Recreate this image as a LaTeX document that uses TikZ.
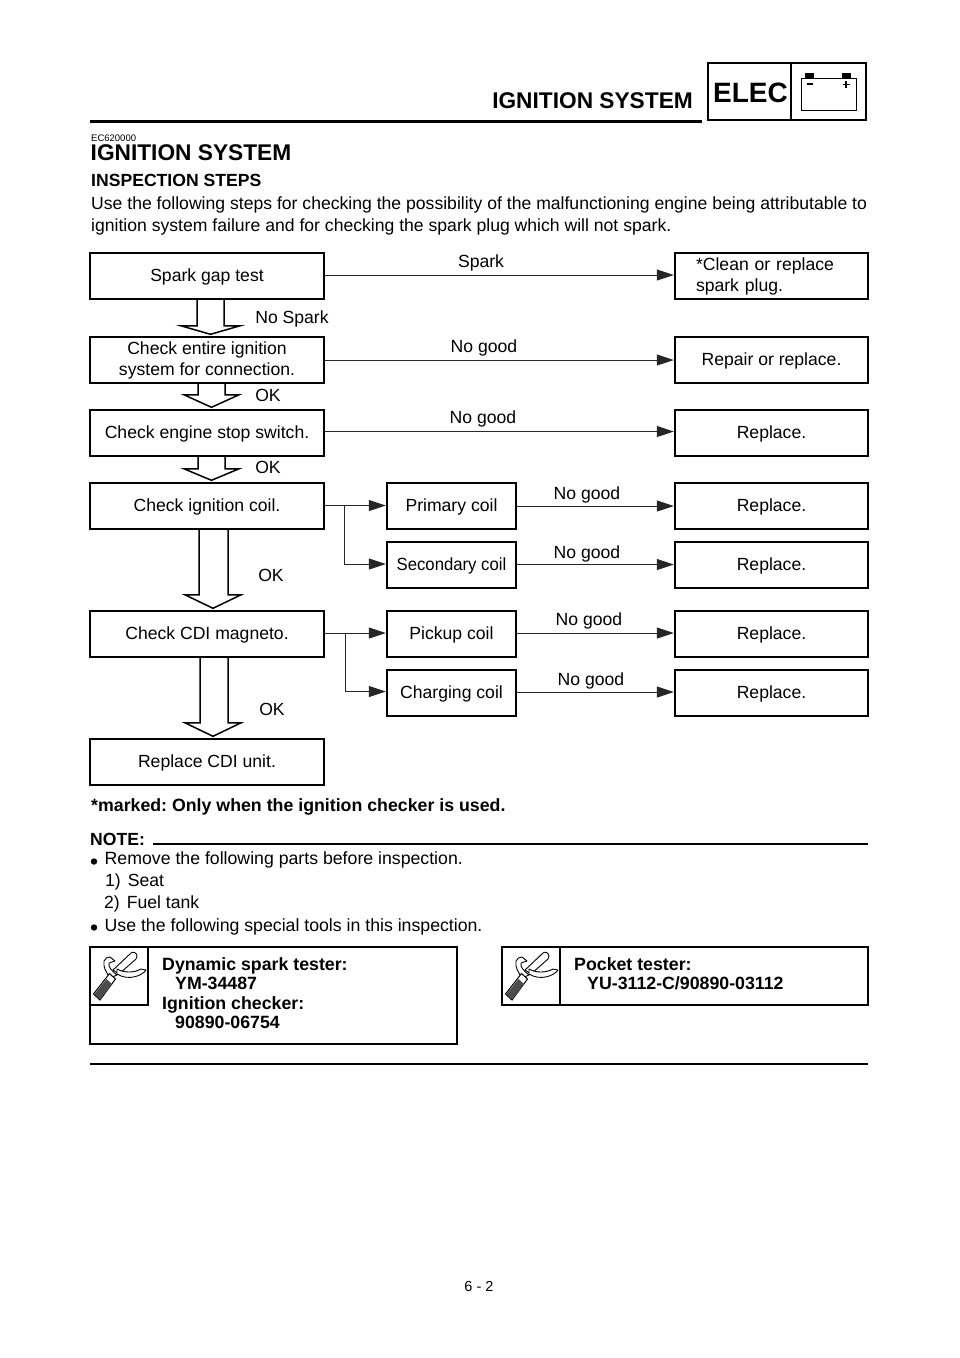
\documentclass[tikz,border=0pt]{standalone}
\usepackage{fontspec}
\usepackage{graphicx}
\setmainfont{Liberation Sans}
\usetikzlibrary{arrows.meta,calc}
\frenchspacing
\tikzset{
 x=1pt,y=-1pt,
 box/.style={draw=black,line width=2.4pt,fill=white,inner sep=0pt,align=center,font=\fontsize{17.6}{21}\selectfont},
 one/.style={text height=13pt,text depth=3pt},
 big/.style={box,minimum width=234pt,minimum height=46pt},
 mid/.style={box,one,minimum width=129pt,minimum height=46pt},
 res/.style={box,minimum width=193pt,minimum height=46pt},
 flow/.style={draw=black!85,line width=1pt,-{Triangle[length=17pt,width=11pt]}},
 blk/.style={draw=black,line width=1.5pt,fill=white,line join=miter},
 lbl/.style={font=\fontsize{17.6}{21}\selectfont,inner sep=0pt,anchor=base},
 txt/.style={font=\fontsize{17.6}{22}\selectfont,inner sep=0pt,anchor=base west},
 txtb/.style={font=\fontsize{17.7}{22}\selectfont,inner sep=0pt,anchor=base west},
 btxt/.style={font=\fontsize{17.6}{22}\selectfont\bfseries,inner sep=0pt,anchor=base west},
 btxtb/.style={font=\fontsize{17.75}{22}\selectfont\bfseries,inner sep=0pt,anchor=base west},
 rulethick/.style={draw=black,line width=2.6pt},
 toolbox/.style={draw=black,line width=2.4pt},
 iconline/.style={draw=black,line width=.9pt,fill=white,line join=round},
}
% block arrow: from node #1 to node #2, shaft x #3..#4, head x #5..#6, head top #7 above target
\newcommand{\blockarrow}[7]{%
 \draw[blk] let \p1=(#1.south), \p2=(#2.north) in
  (#3pt,\y1) -- (#3pt,\y2+#7pt) -- (#5pt,\y2+#7pt) -- ({(#5+#6)/2*1pt},\y2+1.5pt)
  -- (#6pt,\y2+#7pt) -- (#4pt,\y2+#7pt) -- (#4pt,\y1);
}
\newcommand{\wrenchicon}[1]{%
 \begin{scope}[shift={#1}]
  % curled hook
  \draw[iconline] (20,31) .. controls (16,25) and (13,20) .. (14,14)
   .. controls (15,11) and (18,10) .. (20,10) -- (25,14) -- (19,16)
   .. controls (18,20) and (22,24) .. (27,28) -- cycle;
  % lever
  \draw[iconline] (23,23) -- (41,6) .. controls (43,4) and (47,6) .. (47,9)
   .. controls (47,10) and (47,11) .. (46,12) -- (29,27) -- cycle;
  % right hook
  \draw[iconline] (27,22) .. controls (34,26) and (44,26) .. (51,22) -- (56,23)
   .. controls (52,29) and (38,34) .. (27,27) -- cycle;
  % handle
  \draw[black,line width=1pt,fill=white] (3.5,47) -- (19.5,26.5) -- (25.5,32) -- (10,53) -- cycle;
  \fill[black!70] (4.5,47) -- (16.5,32) -- (22,37) -- (10,52.5) -- cycle;
 \end{scope}
}
\begin{document}
\begin{tikzpicture}
\useasboundingbox (0,0) rectangle (960,1358);
\fill[white] (0,0) rectangle (960,1358);

% header
\node[inner sep=0pt,anchor=base east,font=\fontsize{22.7}{26}\selectfont\bfseries] (hdr) at (693,108) {IGNITION SYSTEM};
\coordinate (hr1) at (90,121); \coordinate (hr2) at (702,121);
\draw[line width=3pt] (hr1) -- (hr2);
\draw[line width=2.6pt] (708,63) rectangle (866,120);
\draw[line width=2.6pt] (791,63) -- (791,120);
\node[inner sep=0pt,anchor=base,font=\fontsize{28}{32}\selectfont\bfseries] (elec) at (750.5,102) {ELEC};
\draw[line width=1pt] (801,78) rectangle (856,110);
\fill (805,73) rectangle (814,78);
\fill (842,73) rectangle (851,78);
\draw[line width=1.2pt] (807,84) -- (813,84);
\draw[line width=1.2pt] (842.5,84.5) -- (849.5,84.5) (846,81) -- (846,88);

% heading text
\node[inner sep=0pt,anchor=base west,font=\fontsize{9.5}{11}\selectfont] (code) at (91,141) {EC620000};
\node[inner sep=0pt,anchor=base west,font=\fontsize{22.7}{28}\selectfont\bfseries] (title) at (90.5,160.5) {IGNITION SYSTEM};
\node[btxt] (steps) at (91,186) {INSPECTION STEPS};
\node[txt] (p1) at (91,209) {Use the following steps for checking the possibility of the malfunctioning engine being attributable to};
\node[txt] (p2) at (91,231) {ignition system failure and for checking the spark plug which will not spark.};

% left column
\node[big,one] (a1) at (207,276) {Spark gap test};
\node[big] (a2) at (207,360) {Check entire ignition\\system for connection.};
\node[big,one] (a3) at (207,433) {Check engine stop switch.};
\node[big,one] (a4) at (207,506) {Check ignition coil.};
\node[big,one] (a5) at (207,634) {Check CDI magneto.};
\node[big,one] (a6) at (207,762) {Replace CDI unit.};

% middle column
\node[mid] (m1) at (451.5,506) {Primary coil};
\node[mid] (m2) at (451.5,565) {\scalebox{0.95}[1]{Secondary coil}};
\node[mid] (m3) at (451.5,634) {Pickup coil};
\node[mid] (m4) at (451.5,693) {Charging coil};

% right column
\node[res,align=left,text width=151pt] (r1) at (771.5,276) {*Clean or replace\\spark plug.};
\node[res,one] (r2) at (771.5,360) {Repair or replace.};
\node[res,one] (r3) at (771.5,433) {Replace.};
\node[res,one] (r4) at (771.5,506) {Replace.};
\node[res,one] (r5) at (771.5,565) {Replace.};
\node[res,one] (r6) at (771.5,634) {Replace.};
\node[res,one] (r7) at (771.5,693) {Replace.};

% block arrows
\blockarrow{a1}{a2}{197}{224}{181}{240}{10}
\blockarrow{a2}{a3}{198}{225}{184}{239}{14}
\blockarrow{a3}{a4}{198}{225}{184}{239}{13}
\blockarrow{a4}{a5}{199}{228}{185}{241}{15}
\blockarrow{a5}{a6}{200}{228}{185}{241}{15}

% flow lines
\draw[flow] ([yshift=1pt]a1.east) -- ([yshift=1pt]r1.west);
\draw[flow] (a2.east) -- (r2.west);
\draw[flow] ([yshift=1.5pt]a3.east) -- ([yshift=1.5pt]r3.west);
\draw[flow] ([yshift=.5pt]a4.east) -- ([yshift=.5pt]m1.west);
\draw[flow] ([yshift=1pt]a5.east) -- ([yshift=1pt]m3.west);
\draw[flow] (m1.east) -- (r4.west);
\draw[flow] ([yshift=.5pt]m2.east) -- ([yshift=.5pt]r5.west);
\draw[flow] ([yshift=1pt]m3.east) -- ([yshift=1pt]r6.west);
\draw[flow] ([yshift=1pt]m4.east) -- ([yshift=1pt]r7.west);
\coordinate (j1) at (344,505.5);
\coordinate (j2) at (345.5,633);
\draw[flow] (j1) |- ([yshift=1pt]m2.west);
\draw[flow] (j2) |- ([yshift=1.5pt]m4.west);

% labels
\node[lbl] (l1) at (481,267) {Spark};
\node[lbl] (l2) at (292,323) {No Spark};
\node[lbl] (l3) at (484,352) {No good};
\node[lbl] (l4) at (268,401) {OK};
\node[lbl] (l5) at (483,423) {No good};
\node[lbl] (l6) at (268,473) {OK};
\node[lbl] (l7) at (587,499) {No good};
\node[lbl] (l8) at (587,558) {No good};
\node[lbl] (l9) at (271,581) {OK};
\node[lbl] (l10) at (589,625) {No good};
\node[lbl] (l11) at (591,685) {No good};
\node[lbl] (l12) at (272,715) {OK};

% footnote & note
\node[btxtb] (mark) at (91,811) {*marked: Only when the ignition checker is used.};
\node[btxt] (note) at (90,845) {NOTE:};
\coordinate (n1) at (153,844); \coordinate (n2) at (868,844);
\draw[rulethick] (n1) -- (n2);
\fill (94,861.5) circle (3.2pt);
\node[txtb] (n3) at (104.5,864) {Remove the following parts before inspection.};
\node[txt] (n4) at (105,886.5) {1)\hspace{7pt}Seat};
\node[txt] (n5) at (104,908) {2)\hspace{7pt}Fuel tank};
\fill (94,927.5) circle (3.2pt);
\node[txtb] (n6) at (104.5,931.5) {Use the following special tools in this inspection.};

% tool boxes
\draw[toolbox] (90,947) rectangle (457,1044);
\draw[toolbox] (90,1005) -- (148,1005) -- (148,947);
\draw[toolbox] (502,947) rectangle (868,1005);
\draw[toolbox] (560,947) -- (560,1005);
\wrenchicon{(90,947)}
\wrenchicon{(502,947)}
\node[btxtb] (t1) at (162,970) {Dynamic spark tester:};
\node[btxtb] (t2) at (175,989) {YM-34487};
\node[btxtb] (t3) at (162,1009) {Ignition checker:};
\node[btxtb] (t4) at (175,1028) {90890-06754};
\node[btxtb] (t5) at (574,970) {Pocket tester:};
\node[btxtb] (t6) at (587,989) {YU-3112-C/90890-03112};
\coordinate (e1) at (90,1064); \coordinate (e2) at (868,1064);
\draw[rulethick] (e1) -- (e2);

\node[inner sep=0pt,anchor=base,font=\fontsize{14.5}{16}\selectfont] (pg) at (479,1291) {6 - 2};
\end{tikzpicture}
\end{document}
